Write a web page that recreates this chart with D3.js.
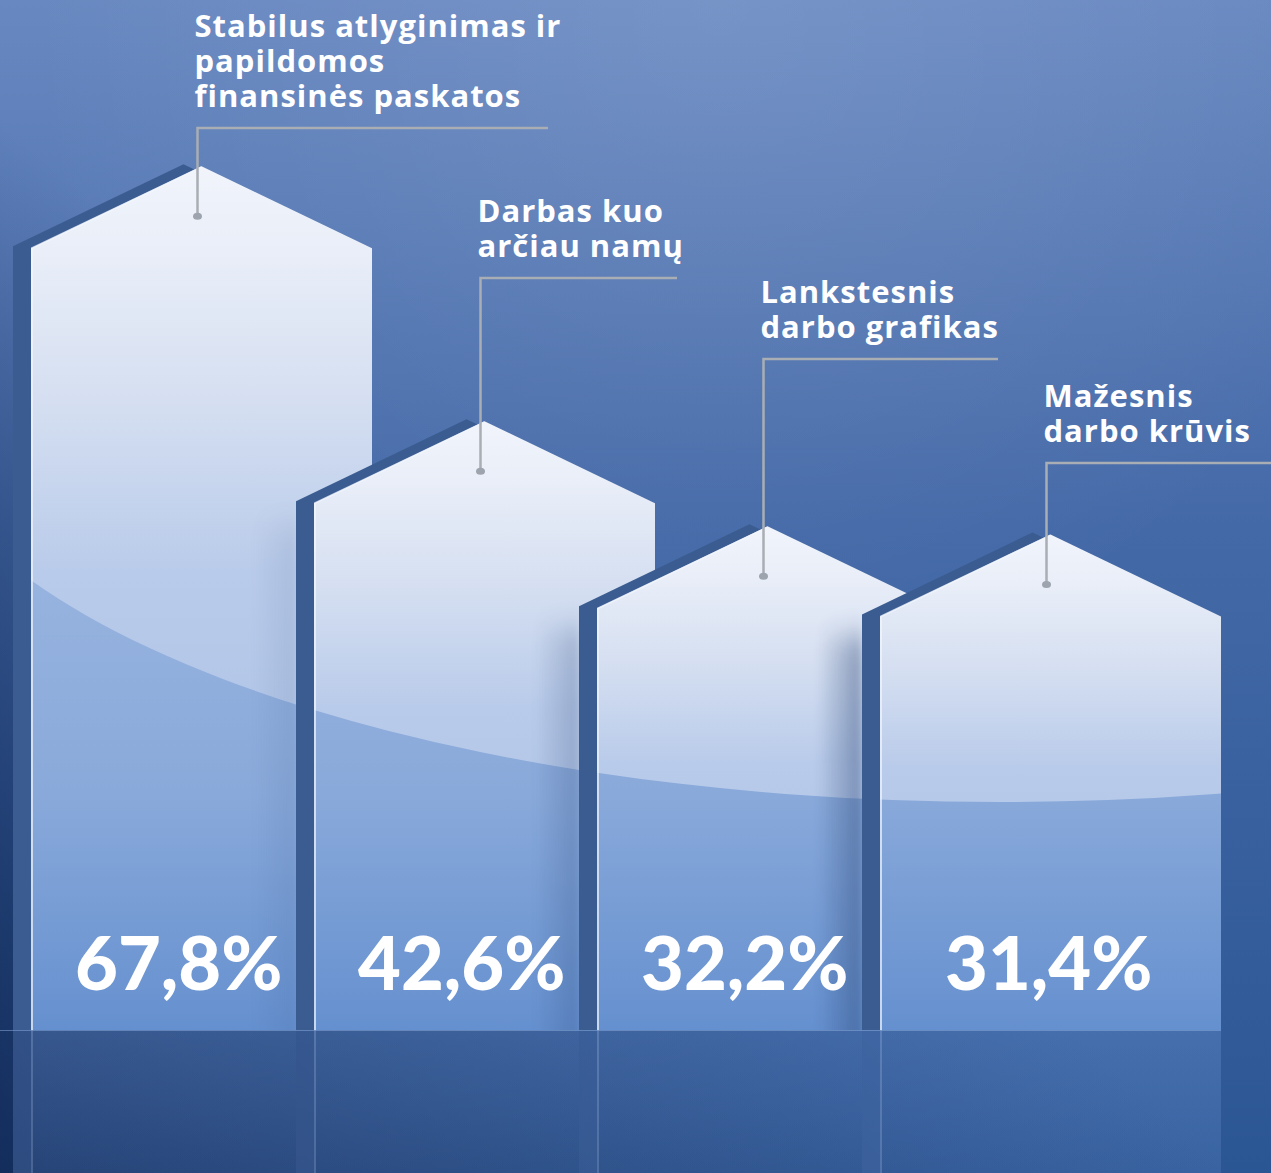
<!DOCTYPE html>
<html>
<head>
<meta charset="utf-8">
<script src="https://cdn.jsdelivr.net/npm/d3@7"></script>
<style>
  html, body { margin: 0; padding: 0; background: #2c5795; }
  svg { display: block; }
</style>
</head>
<body>
<div id="chart"></div>
<script>
// data
const categories = [
  ["Stabilus atlyginimas ir", "papildomos", "finansinės paskatos"],
  ["Darbas kuo", "arčiau namų"],
  ["Lankstesnis", "darbo grafikas"],
  ["Mažesnis", "darbo krūvis"]
];
const values = [67.8, 42.6, 32.2, 31.4];

// layout
const width = 1271, height = 1173;
const baseY = 1030;
const faceW = 341, edgeW = 18, roofH = 82;
const labelLineY = [128, 278, 359, 463];
const labelLineEnd = [548, 677, 998, 1271];
const valueDx = [44, 44, 44, 65];
const shadowOpacity = [0.1, 0.25, 0.45];
const lineH = 35;

const lt = d3.formatLocale({decimal: ",", thousands: " ", grouping: [3], currency: ["", ""]});
const fmt = lt.format(".1f");

const x = d3.scaleBand().domain(d3.range(values.length)).range([31, 31 + 283 * values.length]);
const y = d3.scaleLinear().domain([0, 70]).range([852, 144]);

const svg = d3.select('#chart').append('svg')
  .attr('width', width)
  .attr('height', height);

const defs = svg.append('defs');

function linGrad(id, x1, y1, x2, y2, stops, user) {
  let g = defs.append('linearGradient').attr('id', id)
    .attr('x1', x1).attr('y1', y1).attr('x2', x2).attr('y2', y2);
  if (user) g.attr('gradientUnits', 'userSpaceOnUse');
  stops.forEach(s => {
    g.append('stop').attr('offset', s[0]).attr('stop-color', s[1]).attr('stop-opacity', s[2] === undefined ? 1 : s[2]);
  });
  return g;
}

// background
linGrad('bg', 0, 0, 0, height, [[0, '#6888c1'], [0.45, '#4469a7'], [1, '#2b5694']], true);
linGrad('bgDark', 0, height, 520, 560, [[0, '#0b1f4a', 0.75], [1, '#0b1f4a', 0]], true);
let rg = defs.append('radialGradient').attr('id', 'bgLight')
  .attr('gradientUnits', 'userSpaceOnUse')
  .attr('cx', 720).attr('cy', 0).attr('r', 700);
rg.append('stop').attr('offset', 0).attr('stop-color', '#ffffff').attr('stop-opacity', 0.1);
rg.append('stop').attr('offset', 1).attr('stop-color', '#ffffff').attr('stop-opacity', 0);

// face fills
linGrad('faceA', 0, 0, 0, 1, [[0, '#f1f4fb'], [0.1, '#e9eef8'], [0.27, '#d5dff1'], [0.47, '#b9cbea'], [1, '#a3bbe2']]);
linGrad('faceB', 0, 560, 0, baseY, [[0, '#98b4df'], [0.5, '#89a9da'], [1, '#6590cf']], true);
linGrad('shadow', 0, 0, 1, 0, [[0, '#2a4575', 0], [1, '#2a4575', 1]]);
linGrad('refl', 0, 0, 0, 1, [[0, '#6a93d2', 0.36], [1, '#6a93d2', 0.22]]);

defs.append('filter').attr('id', 'soft')
  .attr('x', '-50%').attr('y', '-20%').attr('width', '200%').attr('height', '140%')
  .append('feGaussianBlur').attr('stdDeviation', '4 14');

svg.append('rect').attr('width', width).attr('height', height).attr('fill', 'url(#bg)');
svg.append('rect').attr('width', width).attr('height', height).attr('fill', 'url(#bgLight)');
svg.append('rect').attr('width', width).attr('height', height).attr('fill', 'url(#bgDark)');

function housePath(i, dx, dy) {
  let L = x(i) + dx, R = L + faceW, cx = L + faceW / 2;
  let pk = y(values[i]) + dy, sh = pk + roofH;
  let p = d3.path();
  p.moveTo(L, sh);
  p.lineTo(cx, pk);
  p.lineTo(R, sh);
  p.lineTo(R, baseY);
  p.lineTo(L, baseY);
  p.closePath();
  return p.toString();
}

// region under the big highlight arc (canvas minus ellipse)
const arcCx = 1000, arcCy = 381, arcRx = 1100, arcRy = 421;
const belowArc = `M0,0 H${width} V${height} H0 Z ` +
  `M${arcCx - arcRx},${arcCy} a${arcRx},${arcRy} 0 1,0 ${2 * arcRx},0 a${arcRx},${arcRy} 0 1,0 ${-2 * arcRx},0 Z`;

// reflections under the base line
let refl = svg.append('g').attr('class', 'reflections');
values.forEach((v, i) => {
  let L = x(i);
  let w = i < values.length - 1 ? Math.min(faceW, x(i + 1) - edgeW - L) : faceW;
  refl.append('rect')
    .attr('x', L - edgeW).attr('y', baseY)
    .attr('width', edgeW).attr('height', height - baseY)
    .attr('fill', '#6d93cf').attr('opacity', 0.3);
  refl.append('rect')
    .attr('x', L).attr('y', baseY)
    .attr('width', w).attr('height', height - baseY)
    .attr('fill', 'url(#refl)');
  refl.append('line')
    .attr('x1', L + 1).attr('x2', L + 1)
    .attr('y1', baseY).attr('y2', height)
    .attr('stroke', '#a9c0e6').attr('stroke-width', 1.5).attr('opacity', 0.35);
});
refl.append('line')
  .attr('x1', 0).attr('x2', x(values.length - 1) + faceW)
  .attr('y1', baseY + 0.5).attr('y2', baseY + 0.5)
  .attr('stroke', '#8fb0e0').attr('opacity', 0.5);

// bars
values.forEach((v, i) => {
  let g = svg.append('g').attr('class', 'bar');
  let L = x(i), pk = y(v), sh = pk + roofH;

  defs.append('clipPath').attr('id', 'clip' + i)
    .append('path').attr('d', housePath(i, 0, 0));

  g.append('path')
    .attr('d', housePath(i, -edgeW, -2))
    .attr('fill', '#3b5c91');

  g.append('path')
    .attr('d', housePath(i, 0, 0))
    .attr('fill', 'url(#faceA)');

  let inner = g.append('g').attr('clip-path', 'url(#clip' + i + ')');
  inner.append('path')
    .attr('d', belowArc)
    .attr('fill-rule', 'evenodd')
    .attr('fill', 'url(#faceB)');

  if (i < values.length - 1) {
    let nx = x(i + 1) - edgeW;
    let top = y(values[i + 1]) + roofH + 20;
    inner.append('rect')
      .attr('x', nx - 45).attr('y', top)
      .attr('width', 45).attr('height', baseY + 40 - top)
      .attr('fill', 'url(#shadow)')
      .attr('filter', 'url(#soft)')
      .attr('opacity', shadowOpacity[i]);
  }

  g.append('path')
    .attr('d', `M${L + 1},${baseY} L${L + 1},${sh} L${L + faceW / 2},${pk + 1}`)
    .attr('fill', 'none')
    .attr('stroke', '#f2f6fc')
    .attr('stroke-width', 2)
    .attr('opacity', 0.7);
});

// values
svg.append('g').selectAll('text')
  .data(values)
  .enter().append('text')
  .attr('x', (d, i) => x(i) + valueDx[i])
  .attr('y', 990)
  .attr('fill', '#ffffff')
  .attr('font-family', 'Lato, sans-serif')
  .attr('font-weight', 900)
  .attr('font-size', 74)
  .text(d => fmt(d) + '%');

// labels and leader lines
let ann = svg.append('g').attr('class', 'labels');
categories.forEach((lines, i) => {
  let lx = x(i) + faceW / 2 - 4;
  let ly = labelLineY[i];
  let dotY = y(values[i]) + 50;

  ann.append('path')
    .attr('d', `M${labelLineEnd[i]},${ly} H${lx} V${dotY}`)
    .attr('fill', 'none')
    .attr('stroke', '#a9adb4')
    .attr('stroke-width', 2.5);
  ann.append('ellipse')
    .attr('cx', lx).attr('cy', dotY)
    .attr('rx', 4.5).attr('ry', 3.5)
    .attr('fill', '#9ea4ad');

  lines.forEach((s, k) => {
    ann.append('text')
      .attr('x', lx - 3)
      .attr('y', ly - 21 - (lines.length - 1 - k) * lineH)
      .attr('fill', '#ffffff')
      .attr('font-family', '"Open Sans", sans-serif')
      .attr('font-weight', 700)
      .attr('font-size', 31)
      .attr('letter-spacing', 1)
      .text(s);
  });
});
</script>
</body>
</html>
